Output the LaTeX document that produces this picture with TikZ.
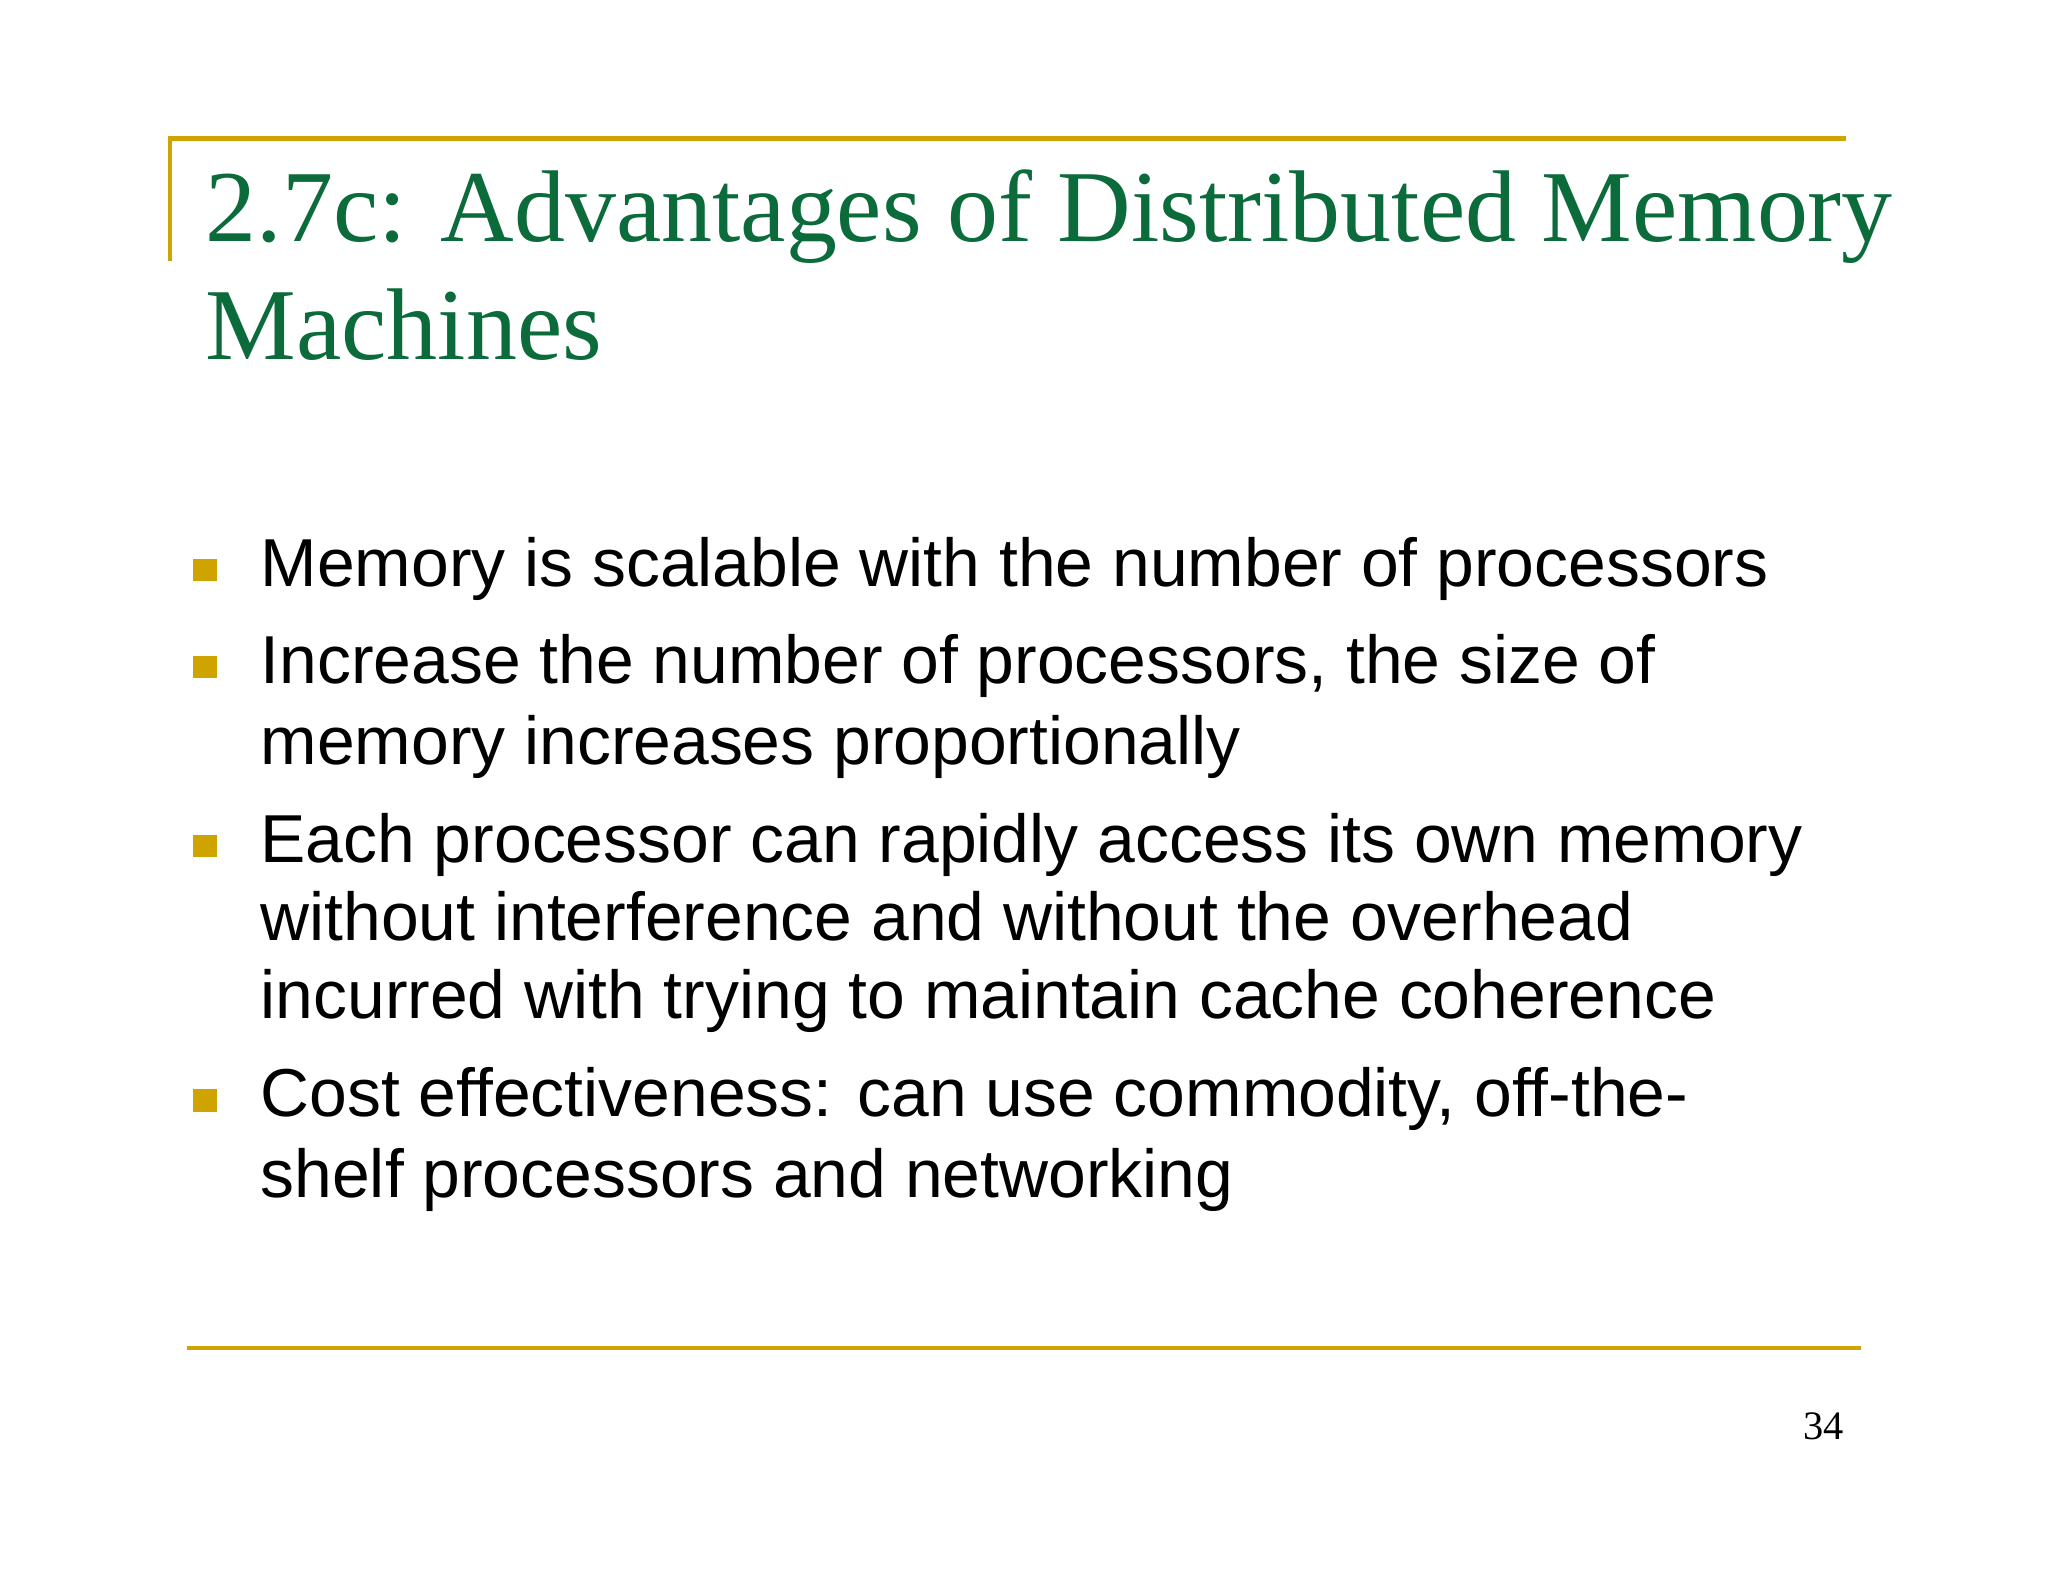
\documentclass[tikz,border=0pt]{standalone}
\usepackage{fontspec}
\setmainfont{Liberation Serif}
\newfontfamily\bodyfont{Liberation Sans}
\definecolor{rulegold}{HTML}{CFA300}
\definecolor{titlegreen}{HTML}{0B6B3A}

\begin{document}
\begin{tikzpicture}[x={(0.01306cm,0)},y={(0,-0.01306cm)},
    titletext/.style={anchor=base west,inner sep=0pt,text=titlegreen,font=\fontsize{29}{34}\selectfont},
    bodytext/.style={anchor=base west,inner sep=0pt,font=\bodyfont\fontsize{19.3}{23}\selectfont},
    bulletbox/.style={fill=rulegold,draw=none}]
    \useasboundingbox [fill=white] (0,0) rectangle (1568,1211);

    % rules
    \draw [rulegold,line width=1.2pt] (130,200) -- (130,106) -- (1413,106);
    \draw [rulegold,line width=1.2pt] (143,1032) -- (1425,1032);

    % title
    \node [titletext] (title1) at (157,185) {2.7c: Advantages of Distributed Memory};
    \node [titletext] (title2) at (157,275) {Machines};

    % bullets
    \foreach \y in {449,523,660,855}{%
        \fill [bulletbox] (148,\y-21) rectangle (166,\y-4);
    }
    \node [bodytext] (line1) at (199,449) {Memory is scalable with the number of processors};
    \node [bodytext] (line2) at (199,523) {Increase the number of processors, the size of};
    \node [bodytext] (line3) at (199,585) {memory increases proportionally};
    \node [bodytext] (line4) at (199,660) {Each processor can rapidly access its own memory};
    \node [bodytext] (line5) at (199,720) {without interference and without the overhead};
    \node [bodytext] (line6) at (199,780) {incurred with trying to maintain cache coherence};
    \node [bodytext] (line7) at (199,855) {Cost effectiveness: can use commodity, off-the-};
    \node [bodytext] (line8) at (199,917) {shelf processors and networking};

    % page number
    \node [anchor=base east,inner sep=0pt,font=\fontsize{11.5}{14}\selectfont] (pagenum) at (1412,1102) {34};
\end{tikzpicture}
\end{document}
